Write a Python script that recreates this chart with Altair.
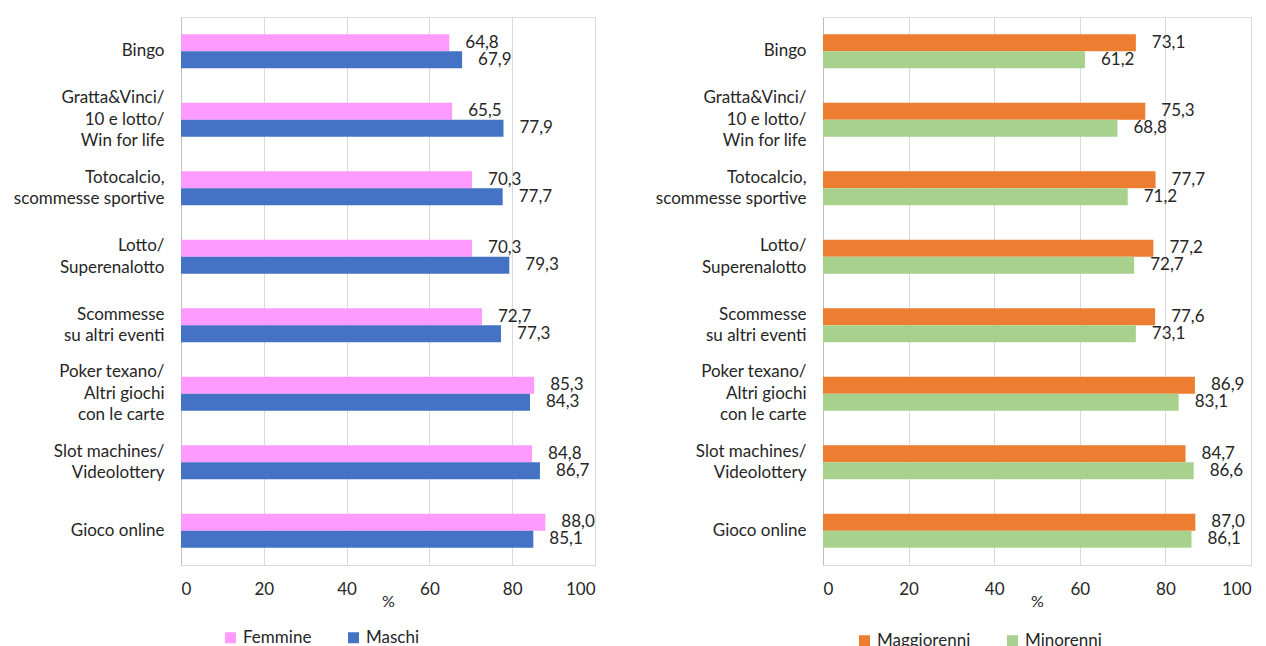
import altair as alt
import pandas as pd

categories = ["Bingo", "Gratta&Vinci/|10 e lotto/|Win for life", "Totocalcio,|scommesse sportive",
              "Lotto/|Superenalotto", "Scommesse|su altri eventi", "Poker texano/|Altri giochi|con le carte",
              "Slot machines/|Videolottery", "Gioco online"]
femmine = [64.8, 65.5, 70.3, 70.3, 72.7, 85.3, 84.8, 88.0]
maschi = [67.9, 77.9, 77.7, 79.3, 77.3, 84.3, 86.7, 85.1]
maggiorenni = [73.1, 75.3, 77.7, 77.2, 77.6, 86.9, 84.7, 87.0]
minorenni = [61.2, 68.8, 71.2, 72.7, 73.1, 83.1, 86.6, 86.1]

FONT = "Lato"
TXT = "#262626"
FS = 17
LH = 21.5


def make_df(names, s1, s2):
    rows = []
    for name, vals in zip(names, [s1, s2]):
        for c, v in zip(categories, vals):
            rows.append({"cat": c, "series": name, "value": v,
                         "label": f"{v:.1f}".replace(".", ",")})
    return pd.DataFrame(rows)


label_offset = {
    "condition": [
        {"test": "length(split(datum.value, '|')) == 3", "value": -LH},
        {"test": "length(split(datum.value, '|')) == 2", "value": -LH / 2},
    ],
    "value": 0,
}


def panel(names, s1, s2, colors, width, legend_x, legend_y):
    df = make_df(names, s1, s2)
    base = alt.Chart(df).encode(
        y=alt.Y("cat:N", sort=categories,
                scale=alt.Scale(paddingInner=0.5, paddingOuter=0.25),
                axis=alt.Axis(title=None, labelExpr="split(datum.value, '|')",
                              labelFont=FONT, labelFontSize=FS, labelColor=TXT,
                              labelPadding=17, ticks=False, grid=False,
                              domainColor="#BFBFBF", labelLineHeight=LH,
                              labelLimit=300, labelOffset=label_offset)),
        yOffset=alt.YOffset("series:N", sort=names, scale=alt.Scale(paddingInner=0, paddingOuter=0)),
        x=alt.X("value:Q", scale=alt.Scale(domain=[0, 100], nice=False),
                axis=alt.Axis(values=[0, 20, 40, 60, 80, 100], title="%", grid=True,
                              gridColor="#D9D9D9", ticks=False, domainColor="#D9D9D9",
                              labelFont=FONT, labelFontSize=FS, labelColor=TXT,
                              labelPadding=16, titleFont=FONT, titleFontSize=16,
                              titleFontWeight="normal", titleColor=TXT, titleY=28)),
    )
    bars = base.mark_bar(size=17).encode(
        color=alt.Color("series:N",
                        scale=alt.Scale(domain=names, range=colors),
                        legend=alt.Legend(orient="none", legendX=legend_x, legendY=legend_y,
                                          direction="horizontal", title=None,
                                          symbolType="square", symbolSize=121,
                                          symbolStrokeWidth=0, labelFont=FONT,
                                          labelFontSize=FS, labelColor=TXT,
                                          columnPadding=33, labelOffset=4)))
    text = base.mark_text(align="left", baseline="middle", dx=16, font=FONT,
                          fontSize=FS, color=TXT).encode(text="label:N")
    return alt.layer(bars, text).properties(width=width, height=548)


left = panel(["Femmine", "Maschi"], femmine, maschi, ["#FF9BFF", "#4472C4"], 414, 41, 612)
right = panel(["Maggiorenni", "Minorenni"], maggiorenni, minorenni, ["#ED7D31", "#A9D18E"], 428, 33, 615)

chart = alt.hconcat(left, right, spacing=228, bounds="flush").resolve_scale(
    color="independent", yOffset="independent", x="independent", y="independent"
).resolve_legend(color="independent").properties(
    padding={"left": 12, "top": 16, "right": 5, "bottom": 5}
).configure_view(stroke=None).configure(background="white")

chart.save("out.html", embed_options={"renderer": "svg", "actions": False})
